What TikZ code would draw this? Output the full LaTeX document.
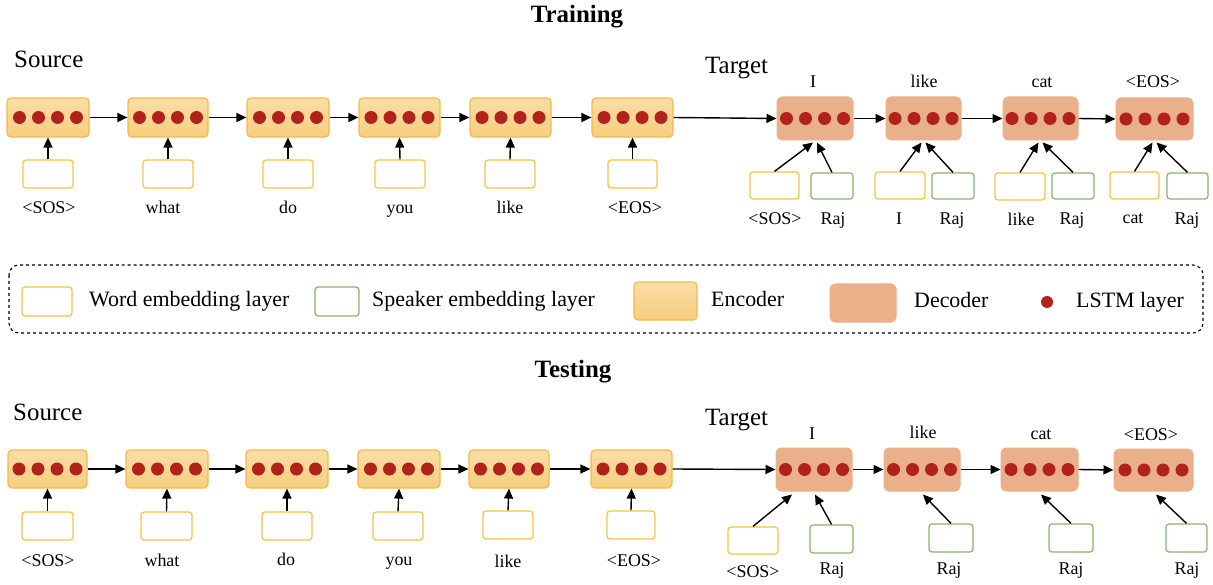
\documentclass[tikz,border=0pt]{standalone}
\usepackage{fontspec}
\setmainfont{Liberation Serif}
\usetikzlibrary{arrows.meta}
\definecolor{encT}{HTML}{FADDA6}
\definecolor{encBot}{HTML}{F7CE80}
\definecolor{encB}{HTML}{F3BA45}
\definecolor{decF}{HTML}{E9B089}
\definecolor{wembC}{HTML}{F7C244}
\definecolor{sembC}{HTML}{86B46A}
\definecolor{dotC}{HTML}{B0221A}
\tikzset{
  enc/.style={draw=encB, line width=1.2bp, rounded corners=4bp, top color=encT, bottom color=encBot, inner sep=0pt},
  dec/.style={draw=decF, fill=decF, line width=1bp, rounded corners=5bp, inner sep=0pt},
  wemb/.style={draw=wembC, fill=white, line width=1.2bp, rounded corners=3bp, inner sep=0pt},
  semb/.style={draw=sembC, fill=white, line width=1.2bp, rounded corners=3bp, inner sep=0pt},
  arr/.style={-{Triangle[length=10bp,width=9bp]}, line width=1.4bp},
  lbl/.style={font=\fontsize{18}{20}\selectfont, anchor=base, inner sep=0pt},
  leg/.style={font=\fontsize{22}{24}\selectfont, anchor=base west, inner sep=0pt},
  hdr/.style={font=\fontsize{25}{28}\selectfont, anchor=base west, inner sep=0pt},
  ttl/.style={font=\bfseries\fontsize{25}{28}\selectfont, anchor=base, inner sep=0pt},
}
\newcommand\mkbox[6]{\node[#1, minimum width={(#5-#3)*1bp}, minimum height={(#6-#4)*1bp}] (#2) at ({(#3+#5)/2},{(#4+#6)/2}) {};}
\newcommand\lstm[1]{\foreach \d in {-28.5,-9.5,9.5,28.5}{\fill[dotC] ([xshift=\d bp]#1.center) circle[radius=6.5bp];}}
\begin{document}
\begin{tikzpicture}[x=1bp,y=-1bp]
\useasboundingbox (0,0) rectangle (1213,585);

% ================= TRAINING =================
\node[ttl] (ttrain) at (577,23) {Training};
\node[hdr] (tsrc) at (14,68) {Source};
\node[hdr] (ttgt) at (705,74) {Target};

% encoders
\mkbox{enc}{te1}{7}{98}{89}{137}
\mkbox{enc}{te2}{128}{98}{208}{137}
\mkbox{enc}{te3}{247}{98}{329}{137}
\mkbox{enc}{te4}{359}{98}{440}{137}
\mkbox{enc}{te5}{470}{98}{551}{137}
\mkbox{enc}{te6}{592}{98}{673}{137}
\foreach \n in {te1,te2,te3,te4,te5,te6}{\lstm{\n}}
% word embeddings
\mkbox{wemb}{tw1}{23}{160}{73}{188}
\mkbox{wemb}{tw2}{143}{160}{193}{188}
\mkbox{wemb}{tw3}{263}{160}{313}{188}
\mkbox{wemb}{tw4}{375}{160}{425}{188}
\mkbox{wemb}{tw5}{485}{160}{535}{188}
\mkbox{wemb}{tw6}{608}{160}{657}{188}
\foreach \i in {1,...,6}{\draw[arr] (tw\i.north) -- (te\i.south);}
\node[lbl] (tl1) at (49,214) {<SOS>};
\node[lbl] (tl2) at (163,214) {what};
\node[lbl] (tl3) at (288,214) {do};
\node[lbl] (tl4) at (400,214) {you};
\node[lbl] (tl5) at (510,214) {like};
\node[lbl] (tl6) at (635,214) {<EOS>};
\draw[arr] (te1.east) -- (te2.west);
\draw[arr] (te2.east) -- (te3.west);
\draw[arr] (te3.east) -- (te4.west);
\draw[arr] (te4.east) -- (te5.west);
\draw[arr] (te5.east) -- (te6.west);

% decoders
\mkbox{dec}{td1}{777}{97}{853}{140}
\mkbox{dec}{td2}{886}{97}{961}{140}
\mkbox{dec}{td3}{1003}{97}{1078}{140}
\mkbox{dec}{td4}{1116}{98}{1193}{140}
\foreach \n in {td1,td2,td3,td4}{\lstm{\n}}
\draw[arr] (te6.east) -- (td1.west);
\draw[arr] (td1.east) -- (td2.west);
\draw[arr] (td2.east) -- (td3.west);
\draw[arr] (td3.east) -- (td4.west);
\node[lbl] (to1) at (813,88) {I};
\node[lbl] (to2) at (924,88) {like};
\node[lbl] (to3) at (1042,88) {cat};
\node[lbl] (to4) at (1153,88) {<EOS>};
% decoder inputs
\mkbox{wemb}{tdw1}{750}{172}{799}{199}
\mkbox{semb}{tds1}{811}{173}{853}{199}
\mkbox{wemb}{tdw2}{875}{172}{925}{199}
\mkbox{semb}{tds2}{932}{173}{974}{199}
\mkbox{wemb}{tdw3}{995}{173}{1045}{200}
\mkbox{semb}{tds3}{1052}{173}{1094}{199}
\mkbox{wemb}{tdw4}{1110}{172}{1159}{199}
\mkbox{semb}{tds4}{1167}{173}{1208}{199}
\foreach \i in {1,...,4}{
  \draw[arr] (tdw\i.north) -- ([xshift=-2bp,yshift=-2bp]td\i.south);
  \draw[arr] (tds\i.north) -- ([xshift=2bp,yshift=-2bp]td\i.south);
}
\node[lbl] (tb1) at (775,225) {<SOS>};
\node[lbl] (tb2) at (833,225) {Raj};
\node[lbl] (tb3) at (899,225) {I};
\node[lbl] (tb4) at (952,225) {Raj};
\node[lbl] (tb5) at (1021,226) {like};
\node[lbl] (tb6) at (1072,225) {Raj};
\node[lbl] (tb7) at (1133,224) {cat};
\node[lbl] (tb8) at (1187,225) {Raj};

% ================= LEGEND =================
\draw[dashed, line width=1.1bp, rounded corners=10bp] (9,265) rectangle (1203,333);
\mkbox{wemb}{lw}{22}{287}{72}{316}
\node[leg] (lwt) at (89,307) {Word embedding layer};
\mkbox{semb}{ls}{315}{287}{359}{316}
\node[leg] (lst) at (372,307) {Speaker embedding layer};
\mkbox{enc}{le}{634}{282}{697}{320}
\node[leg] (let) at (711,307) {Encoder};
\mkbox{dec}{ld}{830}{284}{896}{322}
\node[leg] (ldt) at (914,308) {Decoder};
\fill[dotC] (1047,302) circle[radius=6bp];
\node[leg] (llt) at (1076,308) {LSTM layer};

% ================= TESTING =================
\node[ttl] (ttest) at (573,377) {Testing};
\node[hdr] (ssrc) at (13,420) {Source};
\node[hdr] (stgt) at (705,425) {Target};

\mkbox{enc}{se1}{8}{450}{87}{488}
\mkbox{enc}{se2}{126}{450}{208}{488}
\mkbox{enc}{se3}{246}{450}{328}{488}
\mkbox{enc}{se4}{358}{450}{440}{488}
\mkbox{enc}{se5}{469}{450}{549}{488}
\mkbox{enc}{se6}{591}{450}{672}{488}
\foreach \n in {se1,se2,se3,se4,se5,se6}{\lstm{\n}}
\mkbox{wemb}{sw1}{22}{512}{73}{540}
\mkbox{wemb}{sw2}{141}{512}{192}{540}
\mkbox{wemb}{sw3}{262}{512}{312}{540}
\mkbox{wemb}{sw4}{373}{512}{423}{540}
\mkbox{wemb}{sw5}{483}{511}{533}{539}
\mkbox{wemb}{sw6}{607}{511}{655}{539}
\foreach \i in {1,...,6}{\draw[arr] (sw\i.north) -- (se\i.south);}
\node[lbl] (sl1) at (48,566) {<SOS>};
\node[lbl] (sl2) at (162,566) {what};
\node[lbl] (sl3) at (286,565) {do};
\node[lbl] (sl4) at (399,565) {you};
\node[lbl] (sl5) at (508,567) {like};
\node[lbl] (sl6) at (634,566) {<EOS>};
\draw[arr] (se1.east) -- (se2.west);
\draw[arr] (se2.east) -- (se3.west);
\draw[arr] (se3.east) -- (se4.west);
\draw[arr] (se4.east) -- (se5.west);
\draw[arr] (se5.east) -- (se6.west);

\mkbox{dec}{sd1}{776}{448}{852}{491}
\mkbox{dec}{sd2}{884}{448}{960}{491}
\mkbox{dec}{sd3}{1001}{448}{1078}{491}
\mkbox{dec}{sd4}{1114}{449}{1193}{491}
\foreach \n in {sd1,sd2,sd3,sd4}{\lstm{\n}}
\draw[arr] (se6.east) -- (sd1.west);
\draw[arr] (sd1.east) -- (sd2.west);
\draw[arr] (sd2.east) -- (sd3.west);
\draw[arr] (sd3.east) -- (sd4.west);
\node[lbl] (so1) at (812,439) {I};
\node[lbl] (so2) at (923,438) {like};
\node[lbl] (so3) at (1041,439) {cat};
\node[lbl] (so4) at (1151,440) {<EOS>};

\mkbox{wemb}{sdw1}{728}{527}{778}{554}
\mkbox{semb}{sds1}{810}{525}{853}{553}
\mkbox{semb}{sds2}{929}{524}{973}{552}
\mkbox{semb}{sds3}{1049}{524}{1093}{552}
\mkbox{semb}{sds4}{1166}{524}{1207}{552}
\draw[arr] (sdw1.north) -- ([xshift=-22bp,yshift=-3bp]sd1.south);
\draw[arr] (sds1.north) -- ([xshift=1bp,yshift=-3bp]sd1.south);
\draw[arr] (sds2.north) -- ([xshift=1bp,yshift=-3bp]sd2.south);
\draw[arr] (sds3.north) -- ([xshift=1.5bp,yshift=-3bp]sd3.south);
\draw[arr] (sds4.north) -- ([xshift=2.5bp,yshift=-3bp]sd4.south);
\node[lbl] (sb1) at (753,577) {<SOS>};
\node[lbl] (sb2) at (832,574) {Raj};
\node[lbl] (sb3) at (949,574) {Raj};
\node[lbl] (sb4) at (1071,574) {Raj};
\node[lbl] (sb5) at (1187,574) {Raj};
\end{tikzpicture}
\end{document}
